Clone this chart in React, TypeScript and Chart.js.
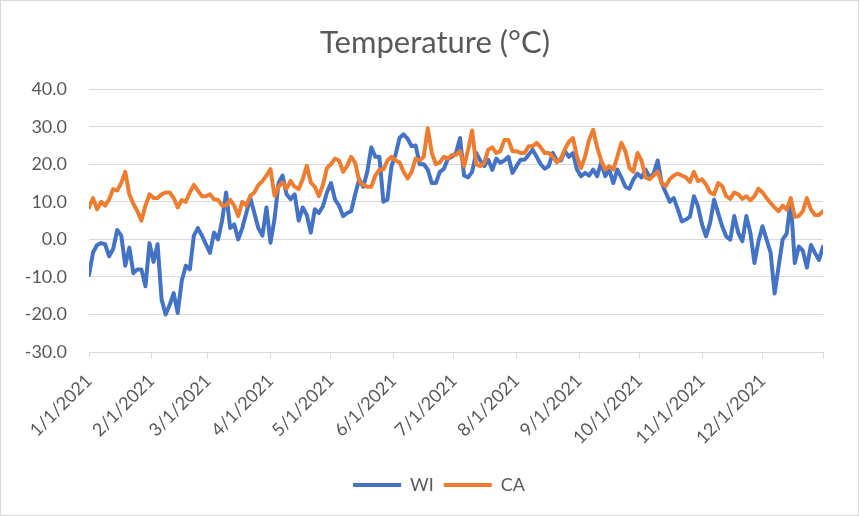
import React, { useEffect, useRef } from 'react';
import { Chart, registerables } from 'chart.js';
Chart.register(...registerables);

const TITLE = 'Temperature (°C)';
const SERIES_NAMES = ['WI', 'CA'];
const STEP_DAYS = 2;

const WI = [
  -9.5, -3.5, -1.5, -1, -1.3, -4.5, -2.5, 2.5, 1, -7,
  -2.2, -9, -8, -8, -12.5, -1, -6, -1.3, -16, -20,
  -17.5, -14.3, -19.6, -11, -7, -8, 1, 3, 1, -1.3,
  -3.6, 1.8, 0, 5, 12.5, 3, 4, 0, 3, 7,
  11, 7, 3, 1, 8.5, -0.9, 5.4, 15, 17, 12,
  10.7, 12, 5, 8.5, 6.5, 1.8, 8, 7, 8.8, 12.5,
  15, 10.6, 9, 6.2, 7, 7.5, 12, 16, 14, 18,
  24.5, 22, 22, 10, 10.6, 19.5, 22.5, 27, 28, 26.8,
  24.8, 25, 20, 20, 18.6, 15, 15, 18, 18.8, 21.5,
  22, 23, 27, 17, 16.5, 18, 23, 21, 19.5, 21.2,
  18.5, 21.5, 20.4, 21, 22, 17.7, 19.5, 21.2, 21.2, 22.5,
  23.9, 22, 20, 18.8, 19.5, 23, 21, 21, 23.5, 22,
  23, 18.6, 16.8, 17.7, 17, 18.6, 16.8, 20.5, 16.8, 18.6,
  15, 18.6, 16.5, 14, 13.5, 16, 17.5, 16.5, 18.6, 16.5,
  17.5, 21, 15, 12.5, 10, 11, 8, 4.8, 5.3, 6,
  11.5, 8.8, 4, 0.8, 4.4, 10.6, 7, 3.5, 0.8, -0.1,
  6.2, 1.7, -0.5, 6.2, 1.7, -6.3, -0.5, 3.5, 0, -3.5,
  -14.4, -7.2, 0, 1.5, 10.6, -6.3, -1.9, -3, -7.5, -1.5,
  -3.6, -5.5, -2,
];

const CA = [
  8.5, 11, 8, 10, 9, 10.7, 13.4, 13, 15, 18,
  12, 9.5, 7.5, 5, 9, 12, 11, 11, 12, 12.5,
  12.5, 11, 8.5, 10.5, 10, 12.5, 14.5, 13, 11.5, 11.5,
  12, 10.7, 10.5, 9, 9, 10.5, 9, 6.2, 10, 9,
  11.6, 12.5, 14.5, 15.5, 17, 18.7, 11.6, 14, 15.2, 13.5,
  15.6, 14, 13.4, 16, 19.6, 15.2, 14, 11.5, 14.5, 19,
  20, 21.5, 21, 18, 19.5, 22, 20.4, 15.5, 14.5, 14,
  14, 17, 18.6, 18.6, 21, 22, 21, 20.5, 18, 16.2,
  18, 21.5, 21, 22, 29.6, 23, 20, 20.5, 22, 21.5,
  22.5, 22.5, 23.5, 19.5, 23.9, 29, 20, 19.5, 20.4, 23.9,
  24.5, 23, 23.5, 26.5, 26.5, 23.5, 23.5, 23, 23, 24.8,
  24.8, 25.7, 24.5, 23, 23, 22, 20.5, 21.5, 24, 26,
  27, 22, 19, 22, 26.5, 29.2, 24.5, 21, 18.6, 19.5,
  18.6, 22, 25.7, 23.5, 19, 18, 23, 21, 16.5, 16,
  17, 18, 15, 14.2, 16, 17, 17.5, 17, 16.5, 15.3,
  18, 15.5, 16, 14.6, 12.5, 12, 15, 14.2, 11.5, 10.8,
  12.5, 12, 10.8, 11.5, 10.4, 11.5, 13.5, 12.5, 11, 9.7,
  8.5, 7.5, 9, 7.9, 11, 6, 6.2, 7.5, 11, 8,
  6.5, 6.5, 7.5,
];

const MONTH_TICK_LABELS = [
  '1/1/2021', '2/1/2021', '3/1/2021', '4/1/2021', '5/1/2021', '6/1/2021',
  '7/1/2021', '8/1/2021', '9/1/2021', '10/1/2021', '11/1/2021', '12/1/2021',
];

const Y_MIN = -30;
const Y_MAX = 40;
const Y_STEP = 10;

const COLORS = ['#4472C4', '#ED7D31'];
const TEXT = '#595959';
const GRID = '#d9d9d9';
const FONT = 'Lato, "Open Sans", sans-serif';

const dayOfYear = (label: string) => {
  const [m, d, y] = label.split('/').map(Number);
  return Math.round((Date.UTC(y, m - 1, d) - Date.UTC(y, 0, 1)) / 86400000);
};

// Shift the title and legend boxes horizontally (Excel centers them over a different span)
const shiftBoxes = {
  id: 'shiftBoxes',
  afterLayout(chart: any) {
    const move = (box: any, dx: number) => {
      if (box) {
        box.left += dx;
        box.right += dx;
      }
    };
    move(chart.legend, 27);
    move(chart.titleBlock, 23);
  },
};

export default function App() {
  const ref = useRef<HTMLCanvasElement>(null);
  useEffect(() => {
    const toPoints = (arr: number[]) => arr.map((v, i) => ({ x: i * STEP_DAYS, y: v }));
    const lastDay = (WI.length - 1) * STEP_DAYS;
    const tickDays = MONTH_TICK_LABELS.map(dayOfYear);
    const labelByDay = new Map<number, string>(tickDays.map((d, i) => [d, MONTH_TICK_LABELS[i]]));
    const series = [WI, CA];
    const chart = new Chart(ref.current as HTMLCanvasElement, {
      type: 'line',
      data: {
        datasets: series.map((s, i) => ({
          label: SERIES_NAMES[i],
          data: toPoints(s),
          borderColor: COLORS[i],
          backgroundColor: COLORS[i],
          borderWidth: 4,
          pointRadius: 0,
          tension: 0,
          borderJoinStyle: 'round',
          borderCapStyle: 'round',
          order: 1 - i,
        })),
      },
      plugins: [shiftBoxes],
      options: {
        animation: false,
        responsive: true,
        maintainAspectRatio: false,
        layout: { padding: { left: 0, right: 35, top: 0, bottom: 11 } },
        plugins: {
          title: {
            display: true,
            text: TITLE,
            color: TEXT,
            font: { family: FONT, size: 31, weight: 'normal' },
            padding: { top: 23, bottom: 28 },
          },
          legend: {
            position: 'bottom',
            labels: {
              usePointStyle: true,
              pointStyle: 'line',
              pointStyleWidth: 48,
              color: TEXT,
              font: { family: FONT, size: 18 },
              padding: 10,
              sort: (a: any, b: any) => a.datasetIndex - b.datasetIndex,
            },
          },
          tooltip: { enabled: false },
        },
        scales: {
          x: {
            type: 'linear',
            min: 0,
            max: lastDay,
            afterBuildTicks: (s: any) => {
              s.ticks = [...tickDays, lastDay].map((v) => ({ value: v }));
            },
            afterFit: (s: any) => {
              s.height = 114;
            },
            grid: { drawOnChartArea: false, drawTicks: true, tickLength: 6, color: GRID },
            border: { color: GRID },
            ticks: {
              autoSkip: false,
              maxRotation: 45,
              minRotation: 45,
              padding: 12,
              color: TEXT,
              font: { family: FONT, size: 18 },
              callback: (v: any) => labelByDay.get(Number(v)) ?? '',
            },
          },
          y: {
            min: Y_MIN,
            max: Y_MAX,
            afterFit: (s: any) => {
              s.width = 88;
            },
            ticks: {
              stepSize: Y_STEP,
              color: TEXT,
              font: { family: FONT, size: 18 },
              padding: 22,
              callback: (v: any) => Number(v).toFixed(1),
            },
            grid: { color: GRID, drawTicks: false },
            border: { display: false },
          },
        },
      },
    } as any);
    return () => chart.destroy();
  }, []);
  return (
    <div
      style={{
        position: 'absolute',
        left: 0,
        top: 0,
        width: 859,
        height: 516,
        boxSizing: 'border-box',
        border: '1px solid #d9d9d9',
        background: '#fff',
      }}
    >
      <canvas ref={ref} />
    </div>
  );
}
